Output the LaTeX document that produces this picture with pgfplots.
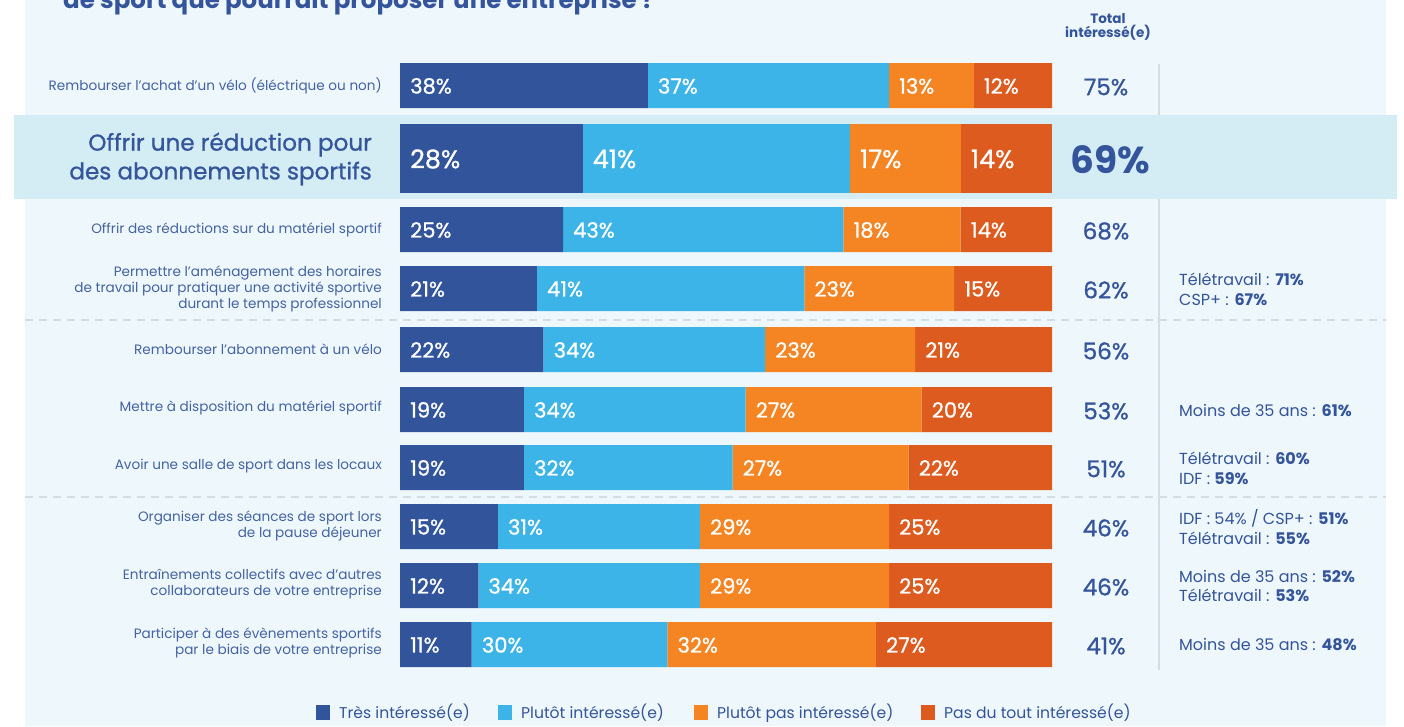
\documentclass[border=0pt]{standalone}
\usepackage{pgfplots}
\pgfplotsset{compat=1.18}
\usepackage{fontspec}
\setmainfont{Poppins}
\newfontfamily\pop{Poppins}
\newfontfamily\popm{Poppins}[FakeBold=0.9]
\definecolor{c1}{HTML}{32549B}
\definecolor{c2}{HTML}{3DB4E7}
\definecolor{c3}{HTML}{F58422}
\definecolor{c4}{HTML}{DE5B20}
\definecolor{tb}{HTML}{34549B}
\definecolor{lb}{HTML}{4463A3}
\definecolor{panel}{HTML}{EEF7FB}
\definecolor{hl}{HTML}{D4EDF4}
\definecolor{lg}{HTML}{D3DDE3}
\newcommand\fs[1]{\fontsize{#1bp}{1.2\dimexpr#1bp\relax}\selectfont}
\newcommand\bl[3]{\node[anchor=west,text=white,font={\popm\fs{21}},xshift=10bp,inner sep=0] at (axis cs:#1,#2) {#3\%};}
\newcommand\bh[3]{\node[anchor=west,text=white,font={\popm\fs{25.5}},xshift=10bp,inner sep=0] at (axis cs:#1,#2) {#3\%};}
\pgfplotsset{geo/.style={at={(400bp,0bp)}, anchor=north west, scale only axis,
  width=652bp, height=726bp, xmin=0, xmax=100, ymin=0, ymax=726,
  y dir=reverse, axis lines=none, clip=false}}
\begin{document}
\begin{tikzpicture}[x=1bp,y=-1bp]
\fill[white] (0,0) rectangle (1404,726);
\path[use as bounding box] (0,0) rectangle (1404,726);
\fill[panel] (25,0) rectangle (1386,726);
\fill[hl] (14,115) rectangle (1397,199);
\draw[lg, line width=1.6bp] (1159,64) -- (1159,115);
\draw[lg, line width=1.6bp] (1159,199) -- (1159,670);
\draw[lg, line width=1.2bp, dash pattern=on 8bp off 6bp] (25,320) -- (1386,320);
\draw[lg, line width=1.2bp, dash pattern=on 8bp off 6bp] (25,497) -- (1386,497);
% title (cut)
\node[anchor=base west, text=tb, font={\pop\bfseries\fs{24.5}}, inner sep=0] at (63,8.5) {de sport que pourrait proposer une entreprise ?};
\node[anchor=center, text=tb, font={\pop\bfseries\fs{13.5}}, align=center, inner sep=0] at (1108,27) {Total\\[-2bp]intéressé(e)};
\begin{axis}[geo, xbar stacked, bar width=45bp]
\addplot[fill=c1, draw=none] coordinates {(38,85.5) (25,229.5) (21,288.5) (22,349.5) (19,409.5) (19,467.5) (15,526.5) (12,585.5) (11,644.5)};
\addplot[fill=c2, draw=none] coordinates {(37,85.5) (43,229.5) (41,288.5) (34,349.5) (34,409.5) (32,467.5) (31,526.5) (34,585.5) (30,644.5)};
\addplot[fill=c3, draw=none] coordinates {(13,85.5) (18,229.5) (23,288.5) (23,349.5) (27,409.5) (27,467.5) (29,526.5) (29,585.5) (32,644.5)};
\addplot[fill=c4, draw=none] coordinates {(12,85.5) (14,229.5) (15,288.5) (21,349.5) (20,409.5) (22,467.5) (25,526.5) (25,585.5) (27,644.5)};
\end{axis}
\begin{axis}[geo, xbar stacked, bar width=69bp]
\addplot[fill=c1, draw=none] coordinates {(28,158.5)};
\addplot[fill=c2, draw=none] coordinates {(41,158.5)};
\addplot[fill=c3, draw=none] coordinates {(17,158.5)};
\addplot[fill=c4, draw=none] coordinates {(14,158.5)};
\end{axis}
\begin{axis}[geo]
\bl{0}{86}{38}\bl{38}{86}{37}\bl{75}{86}{13}\bl{88}{86}{12}
\bh{0}{159}{28}\bh{28}{159}{41}\bh{69}{159}{17}\bh{86}{159}{14}
\bl{0}{230}{25}\bl{25}{230}{43}\bl{68}{230}{18}\bl{86}{230}{14}
\bl{0}{289}{21}\bl{21}{289}{41}\bl{62}{289}{23}\bl{85}{289}{15}
\bl{0}{350}{22}\bl{22}{350}{34}\bl{56}{350}{23}\bl{79}{350}{21}
\bl{0}{410}{19}\bl{19}{410}{34}\bl{53}{410}{27}\bl{80}{410}{20}
\bl{0}{468}{19}\bl{19}{468}{32}\bl{51}{468}{27}\bl{78}{468}{22}
\bl{0}{527}{15}\bl{15}{527}{31}\bl{46}{527}{29}\bl{75}{527}{25}
\bl{0}{586}{12}\bl{12}{586}{34}\bl{46}{586}{29}\bl{75}{586}{25}
\bl{0}{645}{11}\bl{11}{645}{30}\bl{41}{645}{32}\bl{73}{645}{27}
\end{axis}
% category labels
\begin{scope}[every node/.style={anchor=east, align=right, text=lb, font=\fs{13.6}, inner sep=0}]
\node at (382,86) {Rembourser l’achat d’un vélo (éléctrique ou non)};
\node at (382,230) {Offrir des réductions sur du matériel sportif};
\node at (382,289) {Permettre l’aménagement des horaires\\[-0.5bp]de travail pour pratiquer une activité sportive\\[-0.5bp]durant le temps professionnel};
\node at (382,349) {Rembourser l’abonnement à un vélo};
\node at (382,408) {Mettre à disposition du matériel sportif};
\node at (382,466) {Avoir une salle de sport dans les locaux};
\node at (382,526) {Organiser des séances de sport lors\\[-0.5bp]de la pause déjeuner};
\node at (382,584) {Entraînements collectifs avec d’autres\\[-0.5bp]collaborateurs de votre entreprise};
\node at (382,643) {Participer à des évènements sportifs\\[-0.5bp]par le biais de votre entreprise};
\end{scope}
\node[anchor=east, align=right, text=tb, font={\popm\fs{23.1}}, inner sep=0] at (372,159) {Offrir une réduction pour\\[1bp]des abonnements sportifs};
% totals
\begin{scope}[every node/.style={anchor=center, text=tb, font={\popm\fs{23}}, inner sep=0}]
\node at (1106,87) {75\%};
\node at (1106,231) {68\%};
\node at (1106,290) {62\%};
\node at (1106,351) {56\%};
\node at (1106,411) {53\%};
\node at (1106,469) {51\%};
\node at (1106,528) {46\%};
\node at (1106,587) {46\%};
\node at (1106,646) {41\%};
\end{scope}
\node[anchor=center, text=tb, font={\pop\bfseries\fs{37.5}}, inner sep=0] at (1110,160) {69\%};
% notes
\begin{scope}[every node/.style={anchor=west, align=left, text=tb, font=\fs{16}, inner sep=0}]
\node at (1179,289) {Télétravail : \textbf{71\%}\\[0.5bp]CSP+ : \textbf{67\%}};
\node at (1179,410) {Moins de 35 ans : \textbf{61\%}};
\node at (1179,468) {Télétravail : \textbf{60\%}\\[0.5bp]IDF : \textbf{59\%}};
\node at (1179,527) {IDF : 54\% / CSP+ : \textbf{51\%}\\[0.5bp]Télétravail : \textbf{55\%}};
\node at (1179,586) {Moins de 35 ans : \textbf{52\%}\\[0.5bp]Télétravail : \textbf{53\%}};
\node at (1179,645) {Moins de 35 ans : \textbf{48\%}};
\end{scope}
% legend
\begin{scope}[every node/.style={anchor=west, text=tb, font=\fs{15.6}, inner sep=0}]
\fill[c1] (316,705) rectangle (330,720); \node at (339,713) {Très intéressé(e)};
\fill[c2] (498,705) rectangle (512,720); \node at (521,713) {Plutôt intéressé(e)};
\fill[c3] (694,705) rectangle (708,720); \node at (717,713) {Plutôt pas intéressé(e)};
\fill[c4] (921,705) rectangle (935,720); \node at (944,713) {Pas du tout intéressé(e)};
\end{scope}
\end{tikzpicture}
\end{document}
